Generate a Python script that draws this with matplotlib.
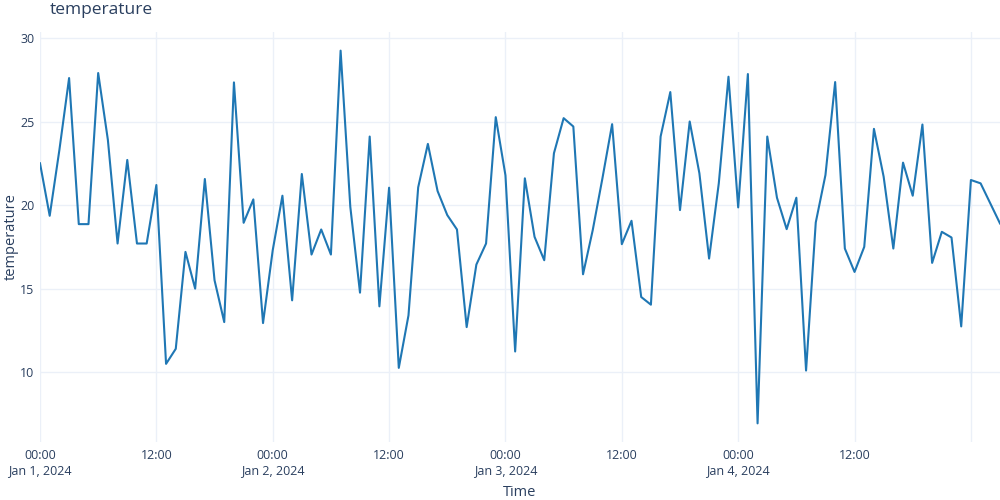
import matplotlib
matplotlib.use("Agg")
import matplotlib.pyplot as plt
import matplotlib.dates as mdates
import pandas as pd
import numpy as np

start_time = "2024-01-01 00:00"
temperature = [
    22.5, 19.36, 23.3, 27.6, 18.86, 18.86, 27.9, 23.9, 17.7, 22.7,
    17.7, 17.7, 21.2, 10.5, 11.4, 17.2, 15.0, 21.56, 15.5, 13.0,
    27.34, 18.94, 20.34, 12.94, 17.3, 20.56, 14.3, 21.86, 17.04, 18.54,
    17.04, 29.24, 19.9, 14.76, 24.1, 13.94, 21.04, 10.26, 13.4, 21.06,
    23.66, 20.84, 19.4, 18.54, 12.7, 16.44, 17.7, 25.26, 21.78, 11.24,
    21.6, 18.1, 16.7, 23.1, 25.2, 24.7, 15.86, 18.5, 21.6, 24.84,
    17.66, 19.06, 14.5, 14.04, 24.1, 26.76, 19.7, 25.0, 21.9, 16.8,
    21.3, 27.68, 19.86, 27.84, 6.94, 24.1, 20.44, 18.56, 20.44, 10.1,
    18.96, 21.8, 27.36, 17.4, 16.0, 17.5, 24.56, 21.7, 17.4, 22.54,
    20.56, 24.82, 16.54, 18.4, 18.06, 12.74, 21.5, 21.3, 20.1, 18.9,
]
y_ticks = [10, 15, 20, 25, 30]
x_tick_times = ["2024-01-01 00:00", "2024-01-01 12:00", "2024-01-02 00:00",
                "2024-01-02 12:00", "2024-01-03 00:00", "2024-01-03 12:00",
                "2024-01-04 00:00", "2024-01-04 12:00", "2024-01-05 00:00"]
x_tick_labels = ["00:00\nJan 1, 2024", "12:00", "00:00\nJan 2, 2024", "12:00",
                 "00:00\nJan 3, 2024", "12:00", "00:00\nJan 4, 2024", "12:00", ""]

times = pd.date_range(start_time, periods=len(temperature), freq="h")

text_color = "#2a3f5f"
grid_color = "#ebf0f8"
plt.rcParams["font.family"] = ["Open Sans", "DejaVu Sans"]

fig = plt.figure(figsize=(10, 5), dpi=100)
ax = fig.add_axes([0.04, 0.116, 0.96, 0.82])
ax.plot(times, temperature, color="#1f77b4", linewidth=1.5, zorder=3)

ymin, ymax = min(temperature), max(temperature)
pad = (ymax - ymin) * 0.05
ax.set_ylim(ymin - pad, ymax + pad)
ax.set_xlim(times[0], times[-1])

ax.set_yticks(y_ticks)
ax.set_yticklabels([str(v) for v in y_ticks])
ax.set_xticks(pd.to_datetime(x_tick_times))
ax.set_xticklabels(x_tick_labels)

ax.grid(True, color=grid_color, linewidth=1, zorder=0)
for s in ax.spines.values():
    s.set_visible(False)
ax.tick_params(axis="both", length=0, labelsize=9, colors=text_color)
ax.tick_params(axis="y", pad=4)
ax.tick_params(axis="x", pad=5)

ax.set_xlabel("Time", fontsize=10.5, color=text_color, labelpad=6)
fig.text(0.011, 0.526, "temperature", fontsize=10.5, color=text_color,
         rotation=90, ha="center", va="center")
fig.text(0.05, 0.98, "temperature", fontsize=12.5, color=text_color, va="center", ha="left")

fig.savefig("out.png", dpi=100, facecolor="white")
